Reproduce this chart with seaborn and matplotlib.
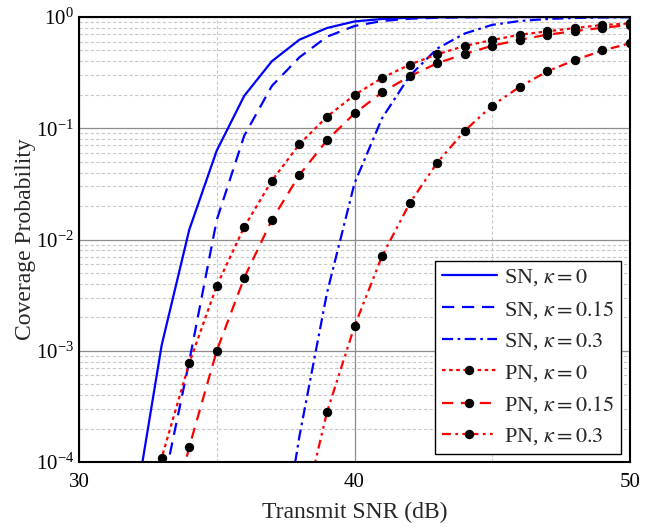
import numpy as np
import pandas as pd
import matplotlib
matplotlib.use("Agg")
import matplotlib.pyplot as plt
import seaborn as sns
from matplotlib.ticker import LogLocator, NullFormatter, MultipleLocator

# ---------------- data ----------------
sn_k0_x = [32, 33, 34, 35, 36, 37, 38, 39, 40, 41, 42, 43, 44, 45, 46, 47, 48, 49, 50]
sn_k0_y = [3.5e-5, 1.12e-3, 0.0122, 0.063, 0.196, 0.40, 0.625, 0.796, 0.912, 0.96, 0.985,
           0.994, 0.998, 0.999, 1.0, 1.0, 1.0, 1.0, 1.0]

sn_k015_x = [33, 34, 35, 36, 37, 38, 39, 40, 41, 42, 43, 44, 45, 46, 47, 48, 49, 50]
sn_k015_y = [5.2e-5, 8e-4, 0.015, 0.086, 0.24, 0.434, 0.665, 0.83, 0.92, 0.965, 0.985,
             0.994, 0.998, 0.999, 1.0, 1.0, 1.0, 1.0]

sn_k03_x = [37, 38, 39, 40, 41, 42, 43, 44, 45, 46, 47, 48, 49, 50]
sn_k03_y = [5e-6, 1.7e-4, 3.3e-3, 0.032, 0.123, 0.295, 0.52, 0.71, 0.85, 0.92, 0.96,
            0.98, 0.99, 0.996]

pn_k0_x = [32, 33, 34, 35, 36, 37, 38, 39, 40, 41, 42, 43, 44, 45, 46, 47, 48, 49, 50]
pn_k0_y = [1e-5, 1.09e-4, 7.7e-4, 3.84e-3, 0.013, 0.0338, 0.0718, 0.127, 0.199, 0.283,
           0.373, 0.462, 0.549, 0.621, 0.693, 0.743, 0.796, 0.848, 0.875]

pn_k015_x = [33, 34, 35, 36, 37, 38, 39, 40, 41, 42, 43, 44, 45, 46, 47, 48, 49, 50]
pn_k015_y = [1.4e-5, 1.36e-4, 1.0e-3, 4.54e-3, 0.015, 0.038, 0.078, 0.136, 0.21, 0.293,
             0.384, 0.465, 0.552, 0.625, 0.693, 0.748, 0.80, 0.85]

pn_k03_x = [38, 39, 40, 41, 42, 43, 44, 45, 46, 47, 48, 49, 50]
pn_k03_y = [2.5e-5, 2.8e-4, 1.66e-3, 7.1e-3, 0.0211, 0.049, 0.095, 0.16, 0.236, 0.325,
            0.41, 0.50, 0.58]

labels = [r"SN, $\kappa = 0$", r"SN, $\kappa = 0.15$", r"SN, $\kappa = 0.3$",
          r"PN, $\kappa = 0$", r"PN, $\kappa = 0.15$", r"PN, $\kappa = 0.3$"]

# ---------------- style ----------------
sns.set_style("white")
plt.rcParams["font.family"] = ["Liberation Serif", "DejaVu Serif"]
plt.rcParams["mathtext.fontset"] = "stix"

fig = plt.figure(figsize=(6.55, 5.29), dpi=100)
ax = fig.add_axes([79 / 655, 1 - 462 / 529, (630 - 79) / 655, (462 - 17) / 529])

series = [
    (sn_k0_x, sn_k0_y, "#0000FF", "-", None),
    (sn_k015_x, sn_k015_y, "#0000FF", (0, (5.5, 3.5)), None),
    (sn_k03_x, sn_k03_y, "#0000FF", (0, (5, 2, 1.2, 2)), None),
    (pn_k0_x, pn_k0_y, "#FF0000", (0, (1.6, 1.6)), "o"),
    (pn_k015_x, pn_k015_y, "#FF0000", (0, (5, 3.5)), "o"),
    (pn_k03_x, pn_k03_y, "#FF0000", (0, (4, 2, 1.2, 2, 1.2, 2)), "o"),
]

for (xs, ys, col, ls, mk), lab in zip(series, labels):
    df = pd.DataFrame({"x": xs, "y": ys})
    kw = dict(color=col, linestyle=ls, linewidth=1.6, label=lab)
    if mk:
        kw.update(marker="o", markersize=6, markerfacecolor="black",
                  markeredgecolor="black")
    sns.lineplot(data=df, x="x", y="y", ax=ax, **kw)

ax.set_yscale("log")
ax.set_xlim(30, 50)
ax.set_ylim(1e-4, 1)

ax.xaxis.set_major_locator(MultipleLocator(10))
ax.xaxis.set_minor_locator(MultipleLocator(5))
ax.yaxis.set_major_locator(LogLocator(base=10, numticks=10))
ax.yaxis.set_minor_locator(LogLocator(base=10, subs=np.arange(2, 10), numticks=50))
ax.yaxis.set_minor_formatter(NullFormatter())

ax.grid(True, which="major", color="#8c8c8c", linestyle="-", linewidth=0.9)
ax.grid(True, which="minor", color="#c8c8c8", linestyle=(0, (3, 2)), linewidth=0.8)
ax.set_axisbelow(True)

ax.tick_params(axis="both", which="both", direction="in", top=False, right=False,
               labelsize=15, colors="black")
ax.tick_params(which="major", length=5, width=1.2)
ax.tick_params(which="minor", length=3, width=1.0)
ax.tick_params(axis="x", pad=8)

for sp in ax.spines.values():
    sp.set_linewidth(1.5)
    sp.set_color("black")

ax.set_xlabel("Transmit SNR (dB)", fontsize=17, labelpad=7)
ax.set_ylabel("Coverage Probability", fontsize=17, labelpad=0)

leg = ax.legend(loc="lower right", fontsize=16, frameon=True, fancybox=False,
                edgecolor="black", framealpha=1, borderaxespad=0.3,
                handlelength=2.5, handletextpad=0.3, labelspacing=0.47,
                borderpad=0.3, bbox_to_anchor=(0.996, 0.003))
leg.get_frame().set_linewidth(1.0)

fig.savefig("out.png", dpi=100)
